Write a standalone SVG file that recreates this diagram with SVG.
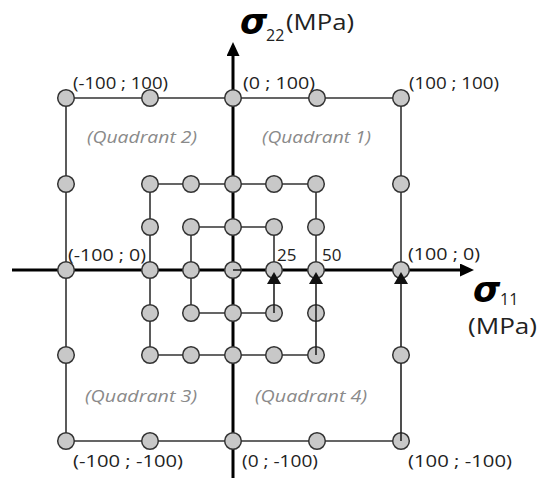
<svg xmlns="http://www.w3.org/2000/svg" width="542" height="484" viewBox="0 0 542 484">
<style>
  .ax{stroke:#000;stroke-width:3;fill:none}
  .sq{stroke:#333;stroke-width:1.6;fill:none}
  .lp{stroke:#222;stroke-width:1.6;fill:none}
  .n circle{fill:#c8c8c8;stroke:#333;stroke-width:1.5}
  .lbl{font-family:"Open Sans","Liberation Sans",sans-serif;font-size:17px;fill:#222}
  .q{font-family:"Open Sans","Liberation Sans",sans-serif;font-size:17px;font-style:italic;fill:#8a8a8a}
  .sig{font-family:"DejaVu Sans",sans-serif;font-size:35px;font-style:italic;font-weight:bold;fill:#000}
  .sub{font-family:"Open Sans","Liberation Sans",sans-serif;font-size:16px;font-style:normal;font-weight:normal;fill:#222}
  .unit{font-family:"Open Sans","Liberation Sans",sans-serif;font-size:21px;font-style:normal;font-weight:normal;fill:#222}
</style>
<defs>
  <marker id="axarrow" viewBox="0 0 14 13" refX="0" refY="6.5" markerWidth="14" markerHeight="13" markerUnits="userSpaceOnUse" orient="auto">
    <path d="M0,0 L14,6.5 L0,13 z" fill="#000"/>
  </marker>
  <marker id="tri" viewBox="0 0 12 14" refX="0" refY="7" markerWidth="12" markerHeight="14" markerUnits="userSpaceOnUse" orient="auto">
    <path d="M0,0 L12,7 L0,14 z" fill="#111"/>
  </marker>
</defs>
<g id="axes">
  <line class="ax" x1="12" y1="270" x2="460" y2="270" marker-end="url(#axarrow)"/>
  <line class="ax" x1="233" y1="478" x2="233" y2="56" marker-end="url(#axarrow)"/>
</g>
<g id="connectors">
  <polyline class="sq" points="401,270 401,98 66,98 66,441 401,441"/>
  <polyline class="sq" points="316,270 316,184 150,184 150,355 316,355"/>
  <polyline class="sq" points="274,270 274,227 191,227 191,313 274,313"/>
</g>
<g id="nodes" class="n">
  <g id="n-100_100"><circle cx="66" cy="98" r="8.3"/></g>
  <g id="n-50_100"><circle cx="150" cy="98" r="8.3"/></g>
  <g id="n0_100"><circle cx="233" cy="98" r="8.3"/></g>
  <g id="n50_100"><circle cx="317" cy="98" r="8.3"/></g>
  <g id="n100_100"><circle cx="401" cy="98" r="8.3"/></g>
  <g id="n-100_50"><circle cx="66" cy="184" r="8.3"/></g>
  <g id="n100_50"><circle cx="401" cy="184" r="8.3"/></g>
  <g id="n-100_0"><circle cx="66" cy="270" r="8.3"/></g>
  <g id="n100_0"><circle cx="401" cy="270" r="8.3"/></g>
  <g id="n-100_-50"><circle cx="66" cy="355" r="8.3"/></g>
  <g id="n100_-50"><circle cx="401" cy="355" r="8.3"/></g>
  <g id="n-100_-100"><circle cx="66" cy="441" r="8.3"/></g>
  <g id="n-50_-100"><circle cx="150" cy="441" r="8.3"/></g>
  <g id="n0_-100"><circle cx="233" cy="441" r="8.3"/></g>
  <g id="n50_-100"><circle cx="317" cy="441" r="8.3"/></g>
  <g id="n100_-100"><circle cx="401" cy="441" r="8.3"/></g>
  <g id="n-50_50"><circle cx="150" cy="184" r="8.3"/></g>
  <g id="n-25_50"><circle cx="191" cy="184" r="8.3"/></g>
  <g id="n0_50"><circle cx="233" cy="184" r="8.3"/></g>
  <g id="n25_50"><circle cx="274" cy="184" r="8.3"/></g>
  <g id="n50_50"><circle cx="316" cy="184" r="8.3"/></g>
  <g id="n-50_25"><circle cx="150" cy="227" r="8.3"/></g>
  <g id="n50_25"><circle cx="316" cy="227" r="8.3"/></g>
  <g id="n-50_0"><circle cx="150" cy="270" r="8.3"/></g>
  <g id="n50_0"><circle cx="316" cy="270" r="8.3"/></g>
  <g id="n-50_-25"><circle cx="150" cy="313" r="8.3"/></g>
  <g id="n50_-25"><circle cx="316" cy="313" r="8.3"/></g>
  <g id="n-50_-50"><circle cx="150" cy="355" r="8.3"/></g>
  <g id="n-25_-50"><circle cx="191" cy="355" r="8.3"/></g>
  <g id="n0_-50"><circle cx="233" cy="355" r="8.3"/></g>
  <g id="n25_-50"><circle cx="274" cy="355" r="8.3"/></g>
  <g id="n50_-50"><circle cx="316" cy="355" r="8.3"/></g>
  <g id="n-25_25"><circle cx="191" cy="227" r="8.3"/></g>
  <g id="n0_25"><circle cx="233" cy="227" r="8.3"/></g>
  <g id="n25_25"><circle cx="274" cy="227" r="8.3"/></g>
  <g id="n-25_0"><circle cx="191" cy="270" r="8.3"/></g>
  <g id="n25_0"><circle cx="274" cy="270" r="8.3"/></g>
  <g id="n-25_-25"><circle cx="191" cy="313" r="8.3"/></g>
  <g id="n0_-25"><circle cx="233" cy="313" r="8.3"/></g>
  <g id="n25_-25"><circle cx="274" cy="313" r="8.3"/></g>
  <g id="n0_0"><circle cx="233" cy="270" r="8.3"/></g>
</g>
<g id="load-paths">
  <line class="lp" x1="233" y1="270" x2="241.5" y2="270"/>
  <line class="lp" x1="274" y1="313" x2="274" y2="284" marker-end="url(#tri)"/>
  <line class="lp" x1="316" y1="355" x2="316" y2="284" marker-end="url(#tri)"/>
  <line class="lp" x1="401" y1="441" x2="401" y2="363.3"/>
  <line class="lp" x1="401" y1="346.7" x2="401" y2="284" marker-end="url(#tri)"/>
</g>
<g id="labels">
  <text class="lbl" x="73" y="89" textLength="95" lengthAdjust="spacingAndGlyphs">(-100 ; 100)</text>
  <text class="lbl" x="243" y="89" textLength="72" lengthAdjust="spacingAndGlyphs">(0 ; 100)</text>
  <text class="lbl" x="409" y="89" textLength="90" lengthAdjust="spacingAndGlyphs">(100 ; 100)</text>
  <text class="q" x="87" y="143" textLength="110" lengthAdjust="spacingAndGlyphs">(Quadrant 2)</text>
  <text class="q" x="262" y="143" textLength="109" lengthAdjust="spacingAndGlyphs">(Quadrant 1)</text>
  <text class="lbl" x="68" y="261" textLength="78" lengthAdjust="spacingAndGlyphs">(-100 ; 0)</text>
  <text class="lbl" x="408" y="260" textLength="72" lengthAdjust="spacingAndGlyphs">(100 ; 0)</text>
  <text class="lbl" x="277" y="261">25</text>
  <text class="lbl" x="322" y="261">50</text>
  <text class="q" x="85" y="402" textLength="112" lengthAdjust="spacingAndGlyphs">(Quadrant 3)</text>
  <text class="q" x="255" y="402" textLength="112" lengthAdjust="spacingAndGlyphs">(Quadrant 4)</text>
  <text class="lbl" x="73" y="467" textLength="110" lengthAdjust="spacingAndGlyphs">(-100 ; -100)</text>
  <text class="lbl" x="242" y="467" textLength="76" lengthAdjust="spacingAndGlyphs">(0 ; -100)</text>
  <text class="lbl" x="408" y="467" textLength="104" lengthAdjust="spacingAndGlyphs">(100 ; -100)</text>
  <text class="sig" x="240" y="34">σ</text>
  <text class="sub" x="266" y="41">22</text>
  <text class="unit" x="286" y="30" textLength="68" lengthAdjust="spacingAndGlyphs">(MPa)</text>
  <text class="sig" x="473" y="302">σ</text>
  <text class="sub" x="500" y="305">11</text>
  <text class="unit" x="468" y="334" textLength="69" lengthAdjust="spacingAndGlyphs">(MPa)</text>
</g>
</svg>
